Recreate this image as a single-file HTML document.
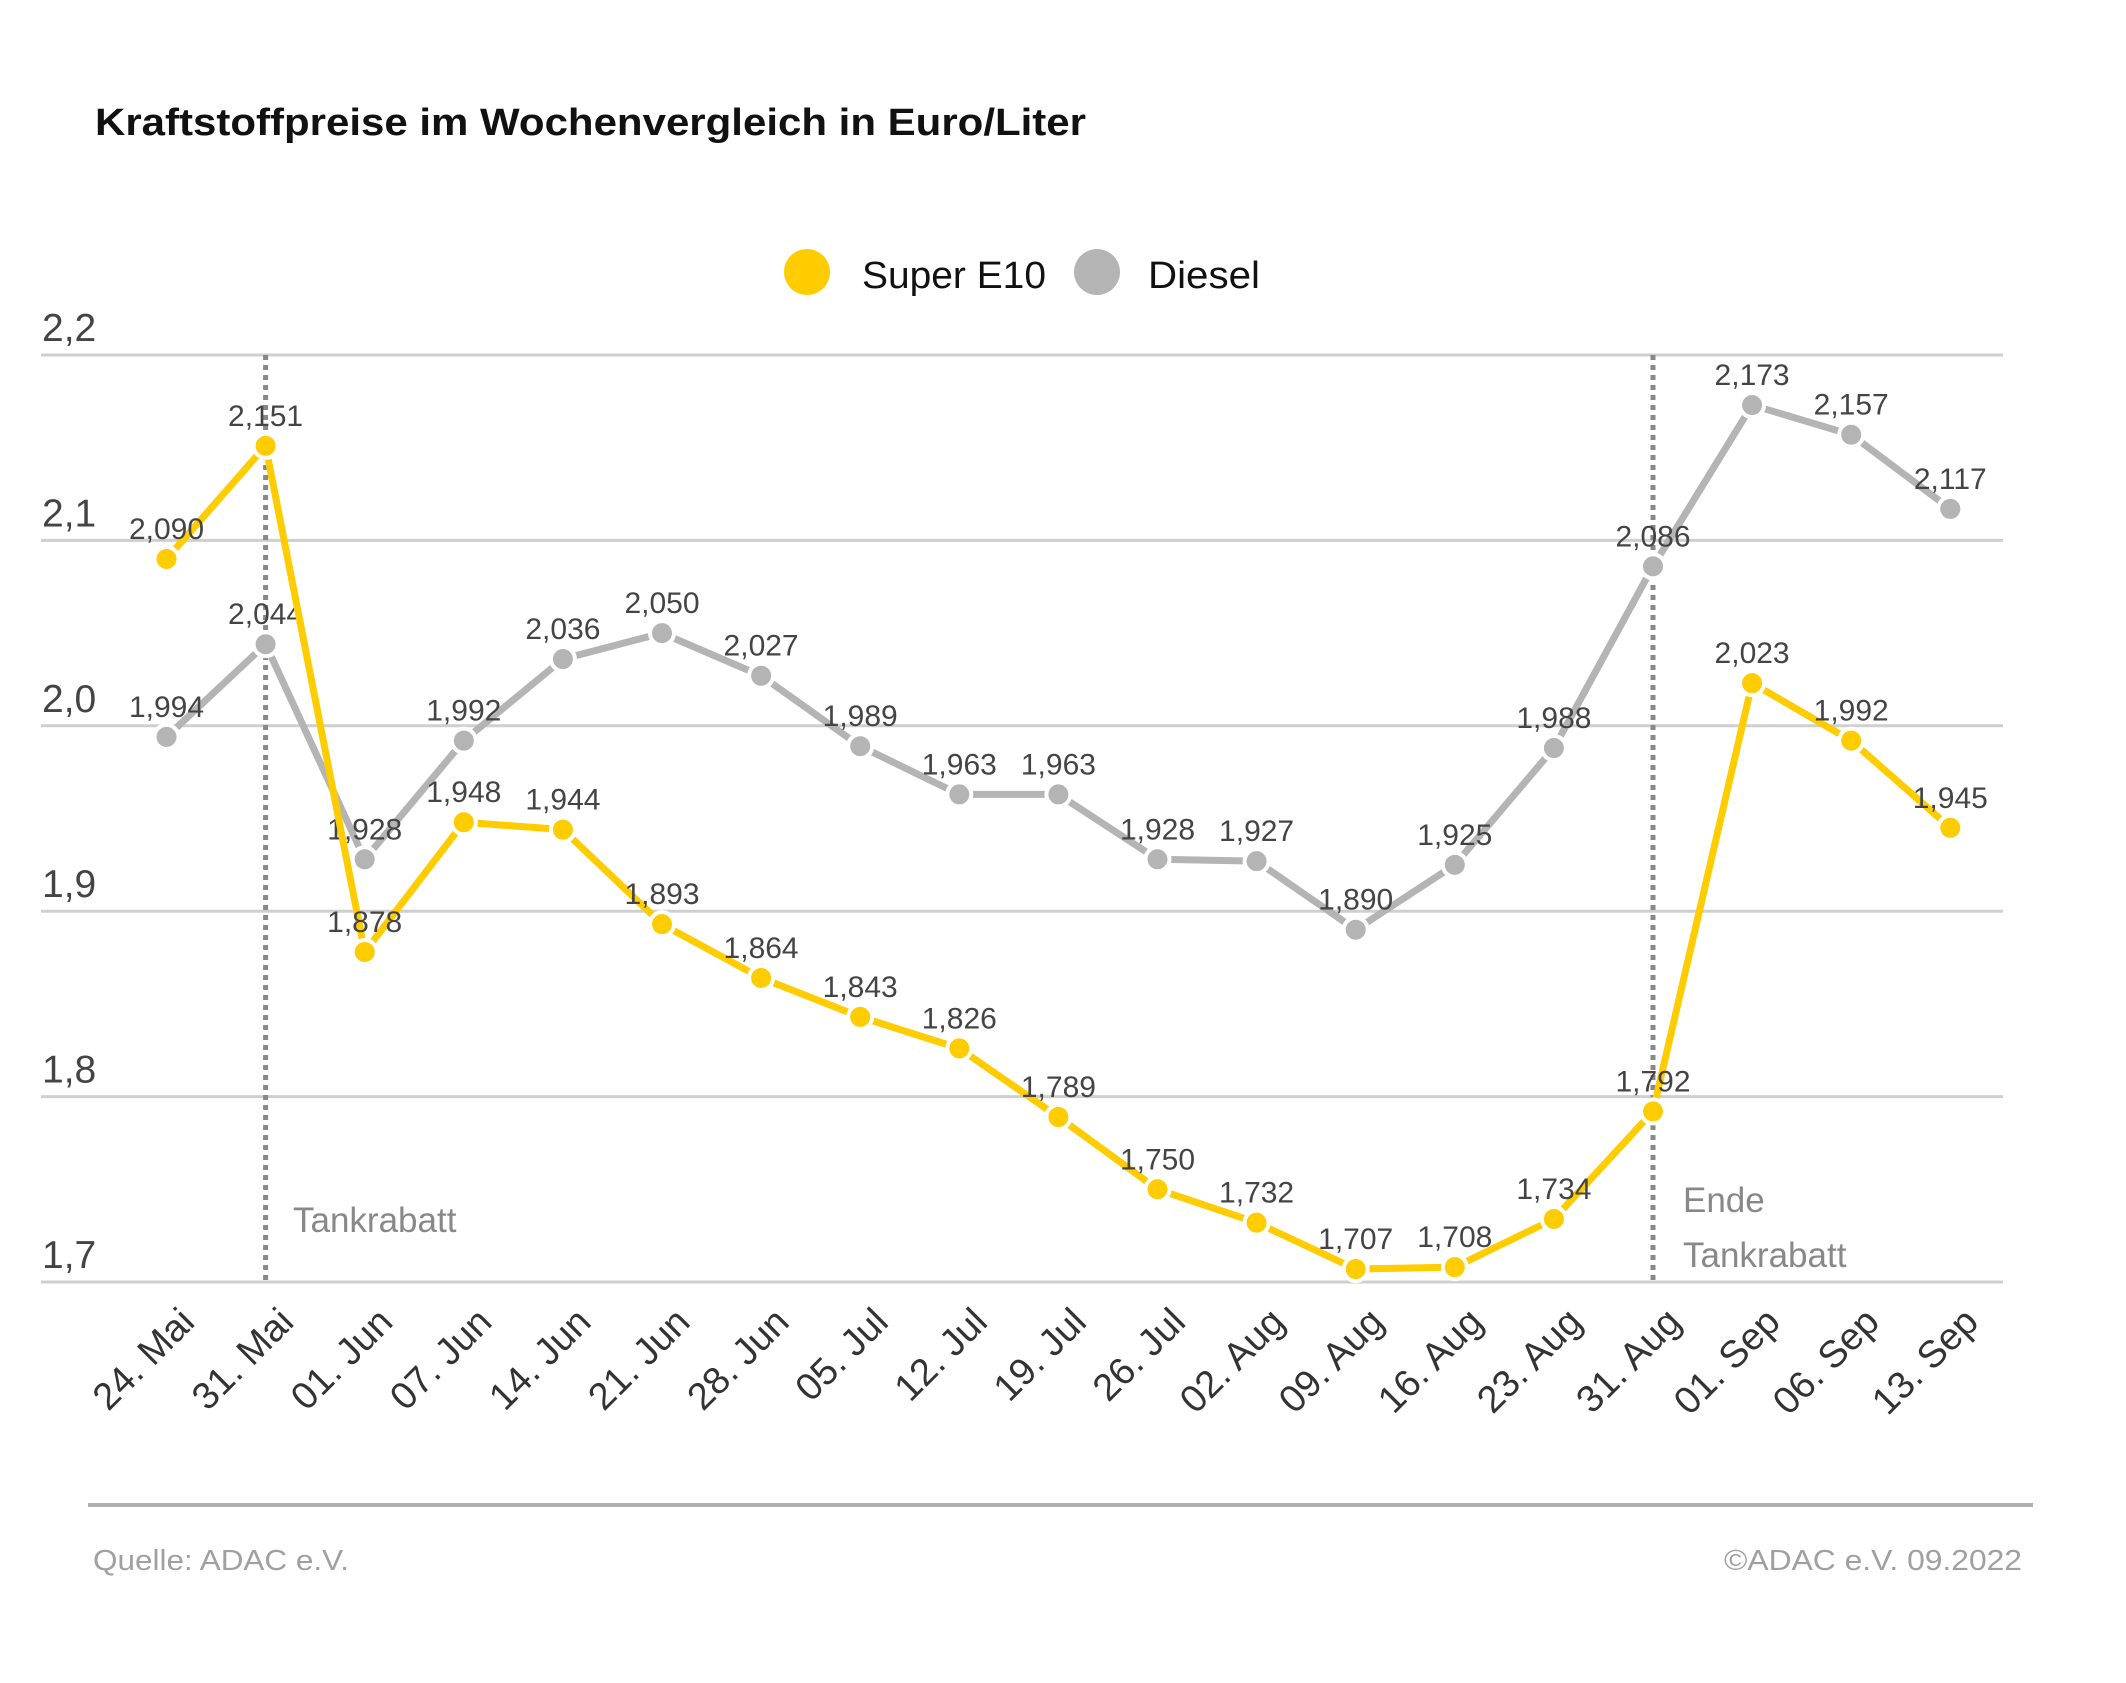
<!DOCTYPE html>
<html><head><meta charset="utf-8"><style>
html,body{margin:0;padding:0;background:#fff}
svg{display:block;font-family:"Liberation Sans",sans-serif}
</style></head><body>
<svg id="s" width="2126" height="1683" xmlns="http://www.w3.org/2000/svg">
<text x="95" y="135" font-size="38" font-weight="bold" fill="#111" textLength="991" lengthAdjust="spacingAndGlyphs">Kraftstoffpreise im Wochenvergleich in Euro/Liter</text>
<circle cx="807" cy="272" r="23" fill="#FFCC00"/>
<text x="862" y="288" font-size="38" fill="#111" textLength="184" lengthAdjust="spacingAndGlyphs">Super E10</text>
<circle cx="1097" cy="272" r="23" fill="#B4B4B4"/>
<text x="1148" y="288" font-size="38" fill="#111" textLength="112" lengthAdjust="spacingAndGlyphs">Diesel</text>
<g id="g"></g>
<line x1="88" y1="1505" x2="2033" y2="1505" stroke="#b0b0b0" stroke-width="4"/>
<text x="93" y="1570" font-size="29" fill="#a0a0a0" textLength="256" lengthAdjust="spacingAndGlyphs">Quelle: ADAC e.V.</text>
<text x="2022" y="1570" font-size="29" fill="#a0a0a0" text-anchor="end" textLength="298" lengthAdjust="spacingAndGlyphs">©ADAC e.V.  09.2022</text>
</svg>
<script>
const NS="http://www.w3.org/2000/svg",g=document.getElementById("g");
function el(t,a,txt){const e=document.createElementNS(NS,t);for(const k in a)e.setAttribute(k,a[k]);if(txt!==undefined)e.textContent=txt;g.appendChild(e);return e;}
const ST=185.4;
const Y=v=>355+(2.2-v)/0.1*ST, X=i=>166.5+i*99.1;
["2,2","2,1","2,0","1,9","1,8","1,7"].forEach((l,i)=>{const y=355+i*ST;
el("line",{x1:41,y1:y,x2:2003,y2:y,stroke:"#cfcfcf","stroke-width":3});
el("text",{x:42,y:y-14,"font-size":39,fill:"#444"},l);});
[265.6,1653].forEach(x=>el("line",{x1:x,y1:355,x2:x,y2:1282,stroke:"#888","stroke-width":5,"stroke-dasharray":"5 5"}));
el("text",{x:293,y:1232,"font-size":35,fill:"#888"},"Tankrabatt");
el("text",{x:1683,y:1212,"font-size":35,fill:"#888"},"Ende");
el("text",{x:1683,y:1267,"font-size":35,fill:"#888"},"Tankrabatt");
const dates=["24. Mai","31. Mai","01. Jun","07. Jun","14. Jun","21. Jun","28. Jun","05. Jul","12. Jul","19. Jul","26. Jul","02. Aug","09. Aug","16. Aug","23. Aug","31. Aug","01. Sep","06. Sep","13. Sep"];
dates.forEach((d,i)=>{const x=X(i)+30,y=1324;el("text",{x:x,y:y,"font-size":38,fill:"#333","text-anchor":"end",transform:`rotate(-45 ${x} ${y})`},d);});
const e10=[2.090,2.151,1.878,1.948,1.944,1.893,1.864,1.843,1.826,1.789,1.750,1.732,1.707,1.708,1.734,1.792,2.023,1.992,1.945];
const di=[1.994,2.044,1.928,1.992,2.036,2.050,2.027,1.989,1.963,1.963,1.928,1.927,1.890,1.925,1.988,2.086,2.173,2.157,2.117];
function series(d,c){
el("polyline",{points:d.map((v,i)=>X(i)+","+Y(v)).join(" "),fill:"none",stroke:c,"stroke-width":7,"stroke-linejoin":"round"});
d.forEach((v,i)=>{el("circle",{cx:X(i),cy:Y(v),r:12,fill:c,stroke:"#fff","stroke-width":4});});
d.forEach((v,i)=>{el("text",{x:X(i),y:Y(v)-20,"font-size":30,fill:"#444","text-anchor":"middle"},v.toFixed(3).replace(".",","));});}
series(di,"#B4B4B4");series(e10,"#FFCC00");
</script>
</body></html>
